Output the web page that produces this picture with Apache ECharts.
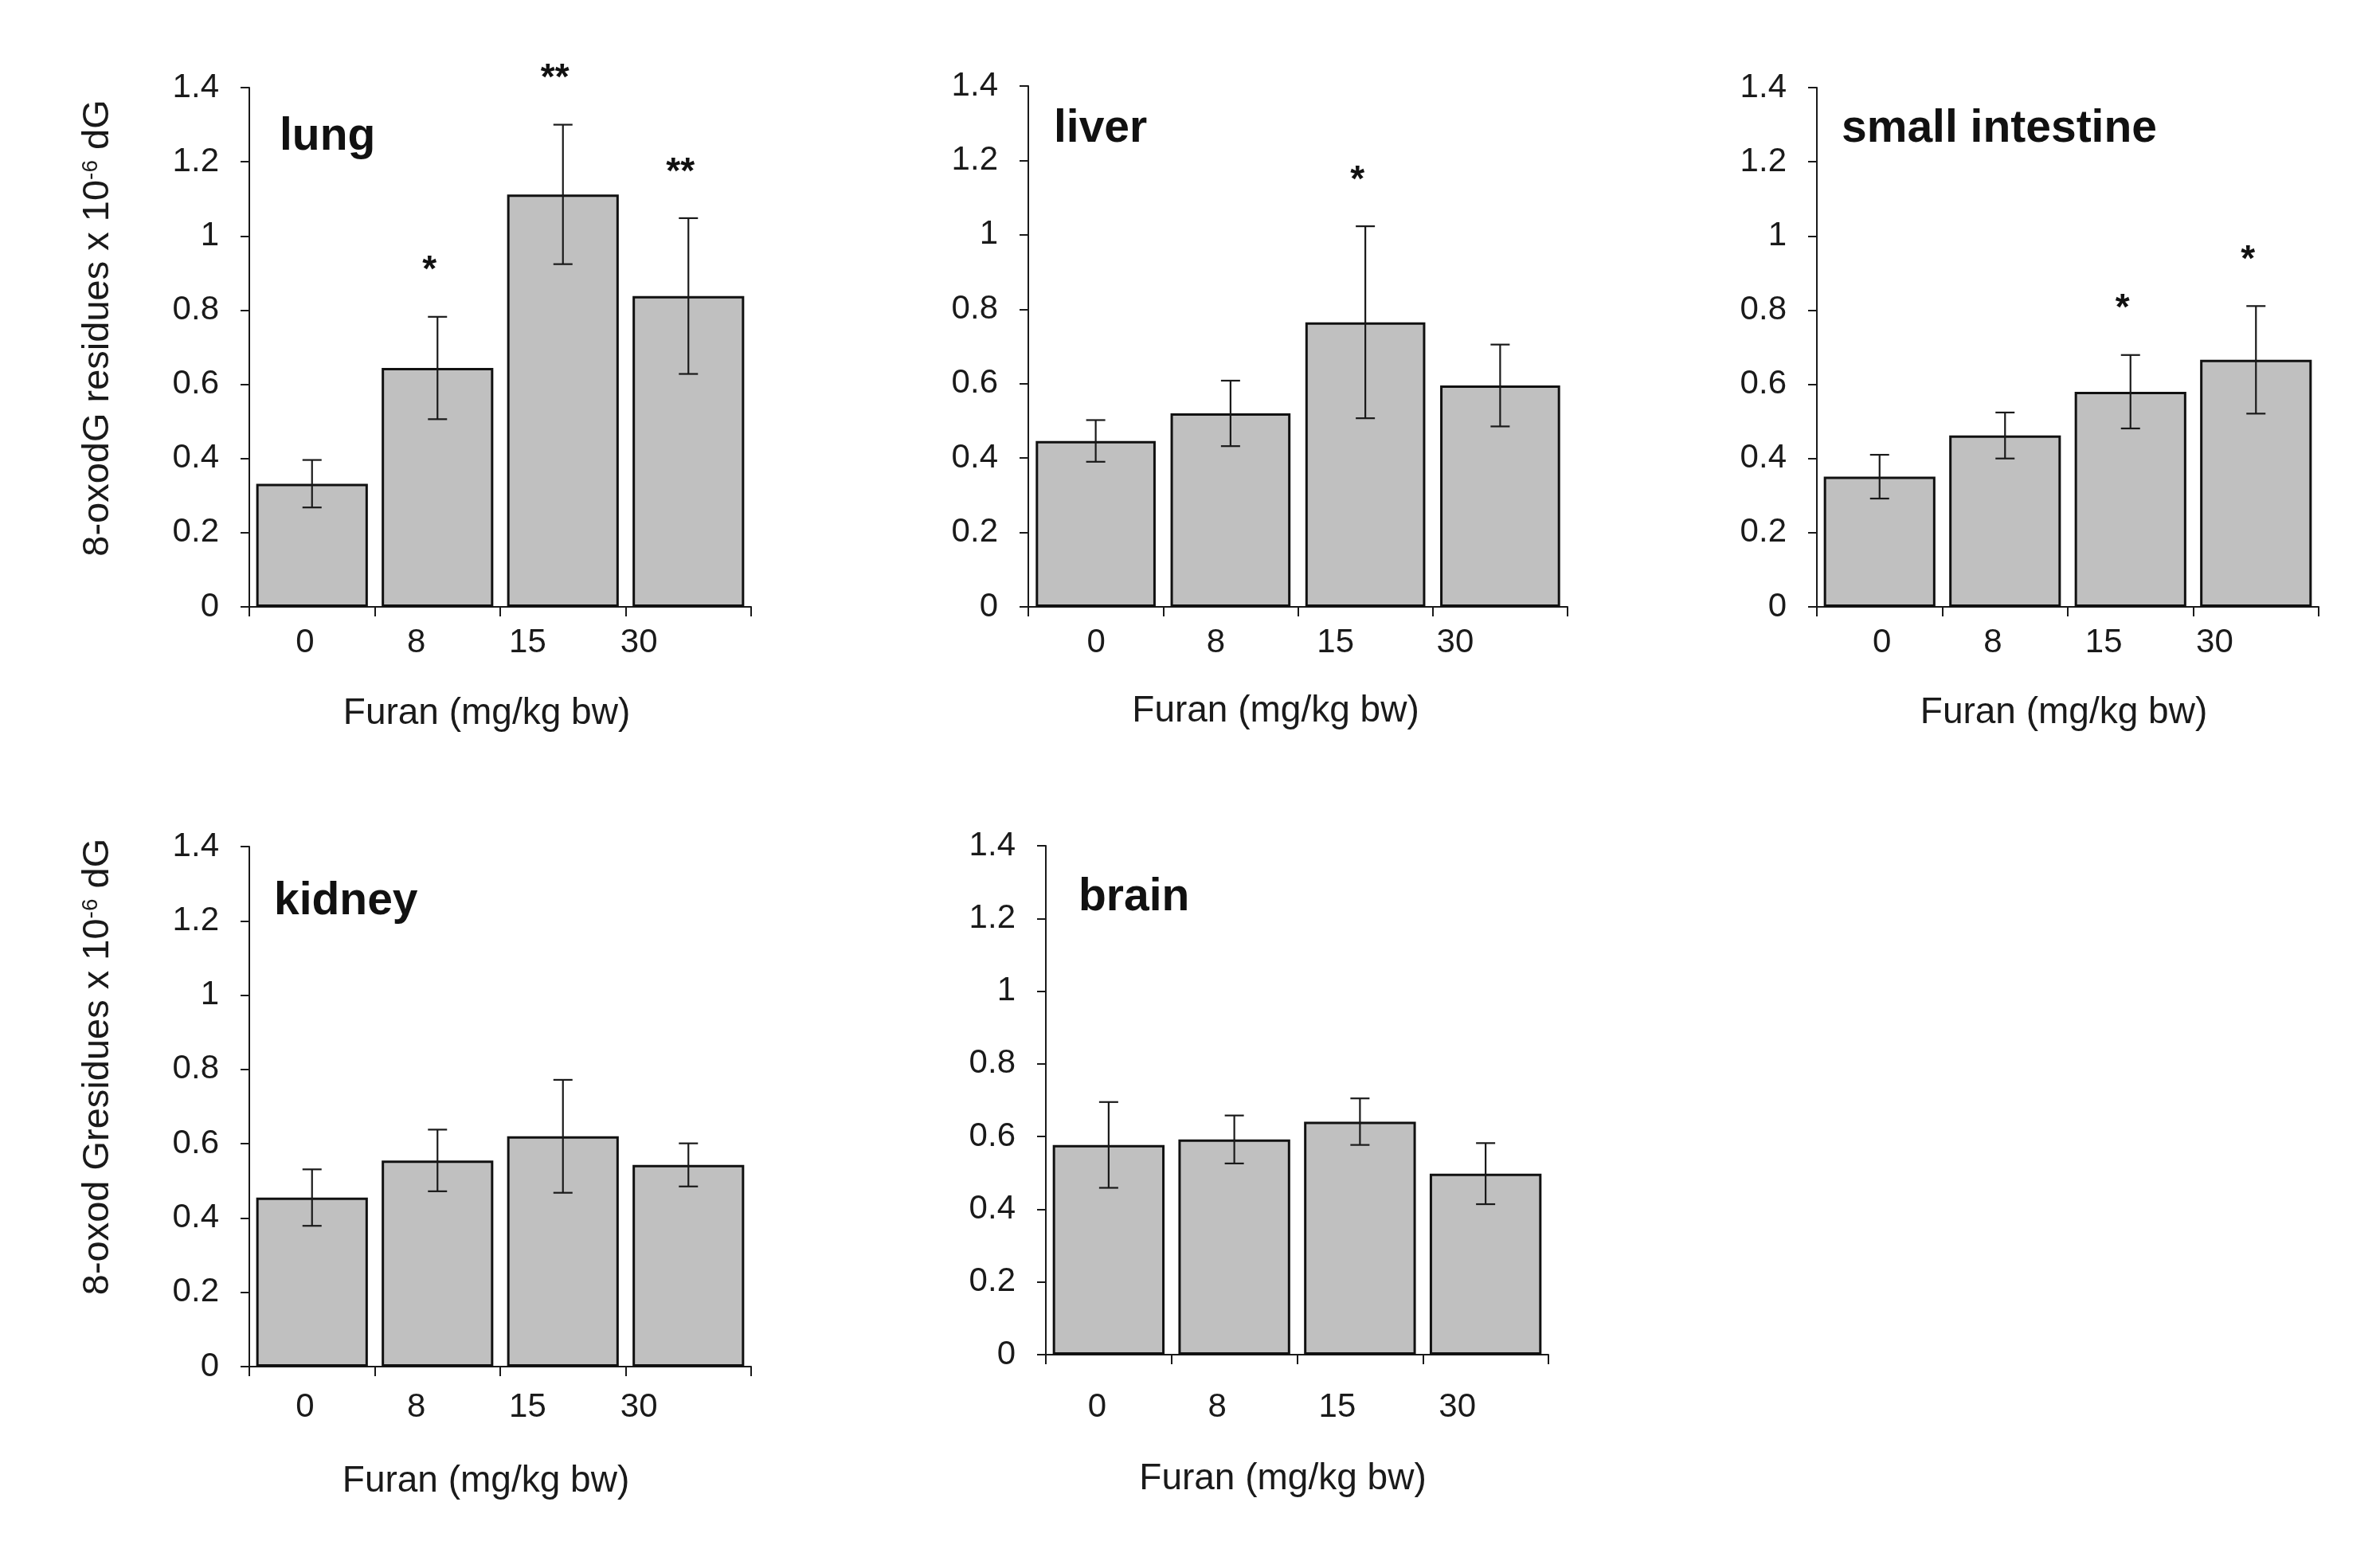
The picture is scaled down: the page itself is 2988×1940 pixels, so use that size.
<!DOCTYPE html>
<html><head><meta charset="utf-8">
<script src="https://cdn.jsdelivr.net/npm/echarts@6/dist/echarts.min.js"></script>
<style>html,body{margin:0;padding:0;background:#fff}#c{width:2988px;height:1940px}</style>
</head><body><div id="c"></div>
<script>
// ---- data ----
const categories = ['0', '8', '15', '30'];
const panelNames = ['lung', 'liver', 'small intestine', 'kidney', 'brain'];
const yTitleTop = '8-oxodG residues x 10{sup|-6} dG';
const yTitleBottom = '8-oxod Gresidues x 10{sup|-6} dG';
const xTitle = 'Furan (mg/kg bw)';

const lungMean = [0.332, 0.644, 1.112, 0.838];
const lungSD = [0.064, 0.138, 0.188, 0.210];
const lungSig = ['', '*', '**', '**'];

const liverMean = [0.446, 0.520, 0.765, 0.595];
const liverSD = [0.056, 0.088, 0.258, 0.110];
const liverSig = ['', '', '*', ''];

const siMean = [0.351, 0.462, 0.580, 0.666];
const siSD = [0.059, 0.062, 0.099, 0.145];
const siSig = ['', '', '*', '*'];

const kidneyMean = [0.455, 0.555, 0.620, 0.543];
const kidneySD = [0.076, 0.083, 0.152, 0.058];
const kidneySig = ['', '', '', ''];

const brainMean = [0.577, 0.592, 0.641, 0.498];
const brainSD = [0.118, 0.066, 0.064, 0.084];
const brainSig = ['', '', '', ''];

// ---- layout / style ----
const FONT = '"Liberation Sans", Arial, Helvetica, sans-serif';
const INK = '#1a1a1a';
const layout = [
  {left:313, top:110, width:630, height:652, lblLeft:313, lblWidth:559, lblMargin:24, nameGap:111, nameShift:17, titleLeft:351, titleTop:144, yName:yTitleTop, yNameShift:24},
  {left:1291, top:108, width:677, height:654, lblLeft:1301, lblWidth:601, lblMargin:24, nameGap:108, nameShift:28, titleLeft:1323, titleTop:134},
  {left:2281, top:110, width:630, height:652, lblLeft:2293, lblWidth:557, lblMargin:24, nameGap:110, nameShift:5, titleLeft:2312, titleTop:134},
  {left:313, top:1063, width:630, height:653, lblLeft:313, lblWidth:559, lblMargin:30, nameGap:121, nameShift:18, titleLeft:344, titleTop:1104, yName:yTitleBottom, yNameShift:50},
  {left:1313, top:1062, width:631, height:639, lblLeft:1302, lblWidth:603, lblMargin:45, nameGap:133, nameShift:18, titleLeft:1354, titleTop:1099}
];
const panels = [
  {mean: lungMean, sd: lungSD, sig: lungSig},
  {mean: liverMean, sd: liverSD, sig: liverSig},
  {mean: siMean, sd: siSD, sig: siSig},
  {mean: kidneyMean, sd: kidneySD, sig: kidneySig},
  {mean: brainMean, sd: brainSD, sig: brainSig}
];

function errRender(sig) {
  return function (params, api) {
    const i = api.value(0), m = api.value(1), e = api.value(2);
    const top = api.coord([i, m + e]);
    const bot = api.coord([i, m - e]);
    const half = 12;
    const ls = {stroke: INK, lineWidth: 2.2};
    const children = [
      {type:'line', shape:{x1:top[0], y1:top[1], x2:bot[0], y2:bot[1]}, style:ls},
      {type:'line', shape:{x1:top[0]-half, y1:top[1], x2:top[0]+half, y2:top[1]}, style:ls},
      {type:'line', shape:{x1:bot[0]-half, y1:bot[1], x2:bot[0]+half, y2:bot[1]}, style:ls}
    ];
    if (sig[i]) {
      children.push({type:'text', x: top[0] - 10, y: top[1] - 57,
        style:{text: sig[i], fontSize: 46, fontWeight: 'bold', fontFamily: FONT, fill: '#111', align:'center', verticalAlign:'middle'}});
    }
    return {type:'group', children};
  };
}

const option = {backgroundColor:'#fff', animation:false, title:[], grid:[], xAxis:[], yAxis:[], series:[]};
layout.forEach((L, p) => {
  const P = panels[p];
  const g = option.grid.length;
  option.grid.push({left:L.left, top:L.top, width:L.width, height:L.height, containLabel:false, outerBoundsMode:'none'});
  option.grid.push({left:L.lblLeft, top:L.top, width:L.lblWidth, height:L.height, containLabel:false, outerBoundsMode:'none'});
  option.title.push({text: panelNames[p], left: L.titleLeft, top: L.titleTop, padding: 0,
    textStyle:{fontSize:57, fontWeight:'bold', fontFamily:FONT, color:'#111'}});
  // main axes
  option.xAxis.push({type:'category', gridIndex:g, data:categories,
    axisLine:{show:true, lineStyle:{color:INK, width:2}},
    axisTick:{show:true, length:12, lineStyle:{color:INK, width:2}},
    axisLabel:{show:false},
    name: xTitle, nameLocation:'middle', nameGap:L.nameGap,
    nameTextStyle:{fontSize:46, fontFamily:FONT, color:INK, padding:[0, 2*L.nameShift, 0, 0]}});
  const y = {type:'value', gridIndex:g, min:0, max:1.4, interval:0.2,
    axisLine:{show:true, lineStyle:{color:INK, width:2}},
    axisTick:{show:true, length:11, lineStyle:{color:INK, width:2}},
    axisLabel:{fontSize:42, fontFamily:FONT, color:INK, margin:38},
    splitLine:{show:false}};
  if (L.yName) {
    y.name = L.yName; y.nameLocation = 'middle'; y.nameGap = 166;
    y.nameTextStyle = {fontSize:47, fontFamily:FONT, color:INK, padding:[0, 0, 0, 2*L.yNameShift],
      rich:{sup:{fontSize:28, fontFamily:FONT, color:INK, verticalAlign:'top'}}};
  }
  option.yAxis.push(y);
  // label axes
  option.xAxis.push({type:'category', gridIndex:g+1, data:categories,
    axisLine:{show:false}, axisTick:{show:false},
    axisLabel:{fontSize:42, fontFamily:FONT, color:INK, margin:L.lblMargin}});
  option.yAxis.push({type:'value', gridIndex:g+1, show:false, min:0, max:1.4});
  // series
  option.series.push({type:'bar', xAxisIndex:g, yAxisIndex:g, data:P.mean, barCategoryGap:'11%',
    itemStyle:{color:'#c0c0c0', borderColor:'#111', borderWidth:3}, silent:true});
  option.series.push({type:'custom', xAxisIndex:g, yAxisIndex:g, z:5, clip:false, silent:true,
    data: P.mean.map((m, j) => [j, m, P.sd[j]]),
    encode:{x:0, y:1},
    renderItem: errRender(P.sig)});
});
const chart = echarts.init(document.getElementById('c'));
chart.setOption(option);
</script></body></html>
